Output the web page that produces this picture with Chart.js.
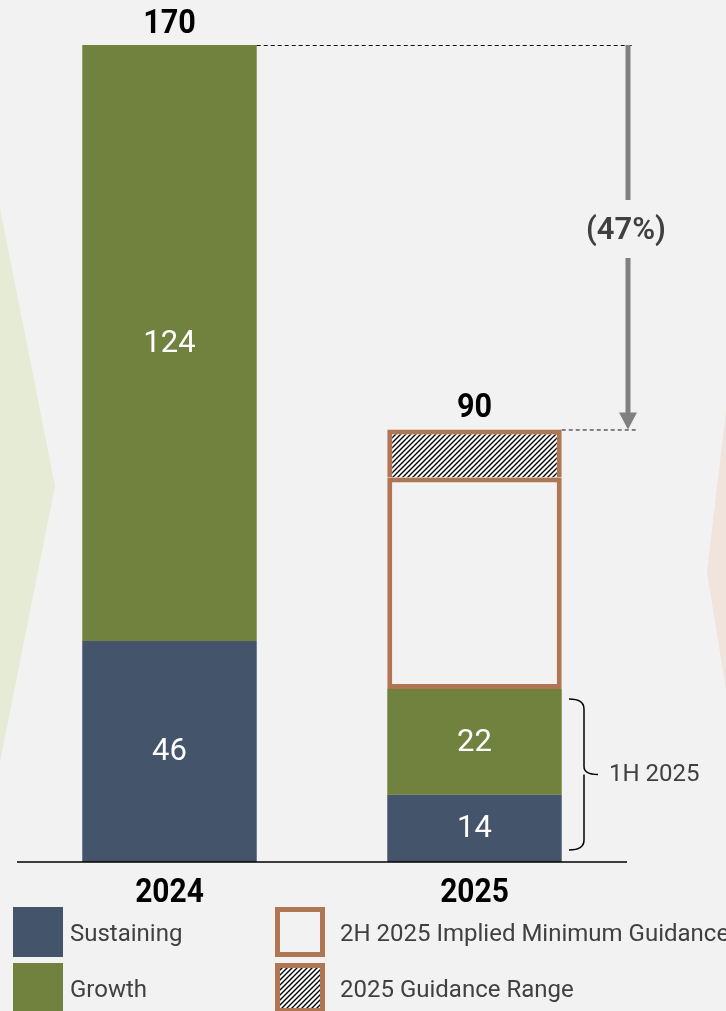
<!DOCTYPE html>
<html>
<head>
<meta charset="utf-8">
<script src="https://cdn.jsdelivr.net/npm/chart.js@4.4.1/dist/chart.umd.min.js"></script>
<style>
  html, body { margin: 0; padding: 0; background: #f2f2f2; }
  #wrap { width: 726px; height: 1011px; position: relative; }
</style>
</head>
<body>
<div id="wrap"><canvas id="chartCanvas"></canvas></div>
<script>
// Chart data
const years = ['2024', '2025'];
const sustaining = [46, 14];
const growth = [124, 22];
const impliedMin = [null, 44];
const guidanceRange = [null, 10];
const totals = [170, 90];
const bracketLabel = '1H 2025';

const NAVY = '#44546a';
const GREEN = '#71813e';
const BROWN = '#b07552';
const BG = '#f2f2f2';
const TEXT = '#404040';

// Hatch pattern for guidance range
function makeHatch() {
  const c = document.createElement('canvas');
  c.width = 5; c.height = 5;
  const g = c.getContext('2d');
  g.fillStyle = '#ffffff';
  g.fillRect(0, 0, 5, 5);
  g.strokeStyle = '#000000';
  g.lineWidth = 1.4;
  g.beginPath();
  g.moveTo(-1, 6); g.lineTo(6, -1);
  g.moveTo(-1, 1); g.lineTo(1, -1);
  g.moveTo(4, 6); g.lineTo(6, 4);
  g.stroke();
  return g.createPattern(c, 'repeat');
}
const hatch = makeHatch();

// narrow bold text like the condensed font of the original
function condensedText(ctx, txt, x, y, sx) {
  ctx.save();
  ctx.translate(x, y);
  ctx.scale(sx, 1);
  ctx.fillText(txt, 0, 0);
  ctx.restore();
}

// Background chevrons, labels, arrow, bracket and legend
const decorPlugin = {
  id: 'decor',
  beforeDraw(chart) {
    const ctx = chart.ctx;
    ctx.save();
    ctx.fillStyle = BG;
    ctx.fillRect(0, 0, chart.width, chart.height);
    ctx.fillStyle = '#e6ebd6';
    ctx.beginPath();
    ctx.moveTo(0, 208); ctx.lineTo(55, 486); ctx.lineTo(0, 762);
    ctx.closePath(); ctx.fill();
    ctx.fillStyle = '#f1e4dc';
    ctx.beginPath();
    ctx.moveTo(726, 410); ctx.lineTo(707, 572); ctx.lineTo(726, 690);
    ctx.closePath(); ctx.fill();
    ctx.restore();
  },
  afterDatasetsDraw(chart) {
    const ctx = chart.ctx;
    const x = chart.scales.x;
    const y = chart.scales.y;
    const area = chart.chartArea;
    ctx.save();

    // baseline
    ctx.strokeStyle = '#000';
    ctx.lineWidth = 1.5;
    ctx.beginPath();
    ctx.moveTo(area.left, y.getPixelForValue(0));
    ctx.lineTo(area.right, y.getPixelForValue(0));
    ctx.stroke();

    // inner value labels
    ctx.fillStyle = '#fff';
    ctx.font = '31px Roboto';
    ctx.textAlign = 'center';
    ctx.textBaseline = 'middle';
    [0, 1].forEach(di => {
      const meta = chart.getDatasetMeta(di);
      meta.data.forEach((bar, i) => {
        const v = chart.data.datasets[di].data[i];
        if (v == null) return;
        ctx.fillText(String(v), bar.x, (bar.y + bar.base) / 2 + 1);
      });
    });

    // totals and category labels
    ctx.fillStyle = '#000';
    ctx.font = 'bold 34px Roboto';
    years.forEach((yr, i) => {
      const cx = x.getPixelForValue(i);
      ctx.textBaseline = 'alphabetic';
      condensedText(ctx, String(totals[i]), cx, y.getPixelForValue(totals[i]) - 12, 0.9);
      condensedText(ctx, yr, cx, y.getPixelForValue(0) + 40, 0.88);
    });

    // dashed connectors
    const bar0 = chart.getDatasetMeta(1).data[0];
    const bar1 = chart.getDatasetMeta(3).data[1];
    const arrowX = 628;
    const yTop = y.getPixelForValue(totals[0]);
    const yBot = y.getPixelForValue(totals[1]);
    ctx.strokeStyle = '#111';
    ctx.lineWidth = 1;
    ctx.setLineDash([4, 3]);
    ctx.beginPath();
    ctx.moveTo(bar0.x + bar0.width / 2, yTop + 0.5); ctx.lineTo(arrowX + 4, yTop + 0.5);
    ctx.moveTo(bar1.x + bar1.width / 2, yBot + 0.5); ctx.lineTo(arrowX + 9, yBot + 0.5);
    ctx.stroke();
    ctx.setLineDash([]);

    // arrow with percentage label
    const pct = Math.round((totals[1] - totals[0]) / totals[0] * 100);
    const midY = 230;
    ctx.strokeStyle = '#808080';
    ctx.fillStyle = '#808080';
    ctx.lineWidth = 5;
    ctx.beginPath();
    ctx.moveTo(arrowX, yTop); ctx.lineTo(arrowX, midY - 30);
    ctx.moveTo(arrowX, midY + 28); ctx.lineTo(arrowX, yBot - 16);
    ctx.stroke();
    ctx.beginPath();
    ctx.moveTo(arrowX - 9, yBot - 17); ctx.lineTo(arrowX + 9, yBot - 17); ctx.lineTo(arrowX, yBot);
    ctx.closePath(); ctx.fill();
    ctx.fillStyle = TEXT;
    ctx.font = '600 31px Roboto';
    ctx.textAlign = 'center';
    ctx.textBaseline = 'middle';
    ctx.fillText('(' + Math.abs(pct) + '%)', arrowX - 2, midY + 1);

    // bracket for 1H 2025
    const b1 = y.getPixelForValue(sustaining[1] + growth[1]) + 10;
    const b0 = y.getPixelForValue(0) - 12;
    const bm = (b0 + b1) / 2;
    const bx = 584;
    ctx.strokeStyle = '#000';
    ctx.lineWidth = 1.5;
    ctx.beginPath();
    ctx.moveTo(569, b1);
    ctx.quadraticCurveTo(bx, b1, bx, b1 + 10);
    ctx.lineTo(bx, bm - 8);
    ctx.quadraticCurveTo(bx, bm, bx + 14, bm);
    ctx.moveTo(bx, bm);
    ctx.quadraticCurveTo(bx, bm, bx, bm + 8);
    ctx.lineTo(bx, b0 - 10);
    ctx.quadraticCurveTo(bx, b0, 569, b0);
    ctx.stroke();
    ctx.fillStyle = TEXT;
    ctx.font = '24px Roboto';
    ctx.textAlign = 'left';
    ctx.fillText(bracketLabel, 609, bm + 1);

    // legend
    const items = [
      { label: chart.data.datasets[0].label, x: 13, y: 907, fill: NAVY },
      { label: chart.data.datasets[1].label, x: 13, y: 963, fill: GREEN },
      { label: chart.data.datasets[2].label, x: 275, y: 907, fill: BG, border: true },
      { label: chart.data.datasets[3].label, x: 275, y: 963, fill: hatch, border: true }
    ];
    ctx.font = '24px Roboto';
    items.forEach(it => {
      if (it.border) {
        ctx.fillStyle = BROWN;
        ctx.fillRect(it.x, it.y, 50, 50);
        ctx.fillStyle = it.fill;
        ctx.fillRect(it.x + 5, it.y + 5, 40, 40);
      } else {
        ctx.fillStyle = it.fill;
        ctx.fillRect(it.x, it.y, 50, 50);
      }
      ctx.fillStyle = TEXT;
      ctx.textAlign = 'left';
      ctx.textBaseline = 'middle';
      ctx.fillText(it.label, it.x + (it.border ? 65 : 57), it.y + 28);
    });

    ctx.restore();
  }
};

const ctx = document.getElementById('chartCanvas').getContext('2d');
new Chart(ctx, {
  type: 'bar',
  data: {
    labels: years,
    datasets: [
      { label: 'Sustaining', data: sustaining, backgroundColor: NAVY, borderWidth: 0 },
      { label: 'Growth', data: growth, backgroundColor: GREEN, borderWidth: 0 },
      { label: '2H 2025 Implied Minimum Guidance', data: impliedMin, backgroundColor: BG,
        borderColor: BROWN, borderWidth: 5, borderSkipped: false },
      { label: '2025 Guidance Range', data: guidanceRange, backgroundColor: hatch,
        borderColor: BROWN, borderWidth: 5, borderSkipped: 'start' }
    ]
  },
  options: {
    responsive: true,
    maintainAspectRatio: false,
    animation: false,
    layout: { padding: { top: 45, bottom: 149, left: 17, right: 99 } },
    datasets: { bar: { barPercentage: 1, categoryPercentage: 0.572 } },
    plugins: { legend: { display: false }, tooltip: { enabled: false } },
    scales: {
      x: { stacked: true, display: false },
      y: { stacked: true, display: false, min: 0, max: 170 }
    }
  },
  plugins: [decorPlugin]
});
</script>
</body>
</html>
